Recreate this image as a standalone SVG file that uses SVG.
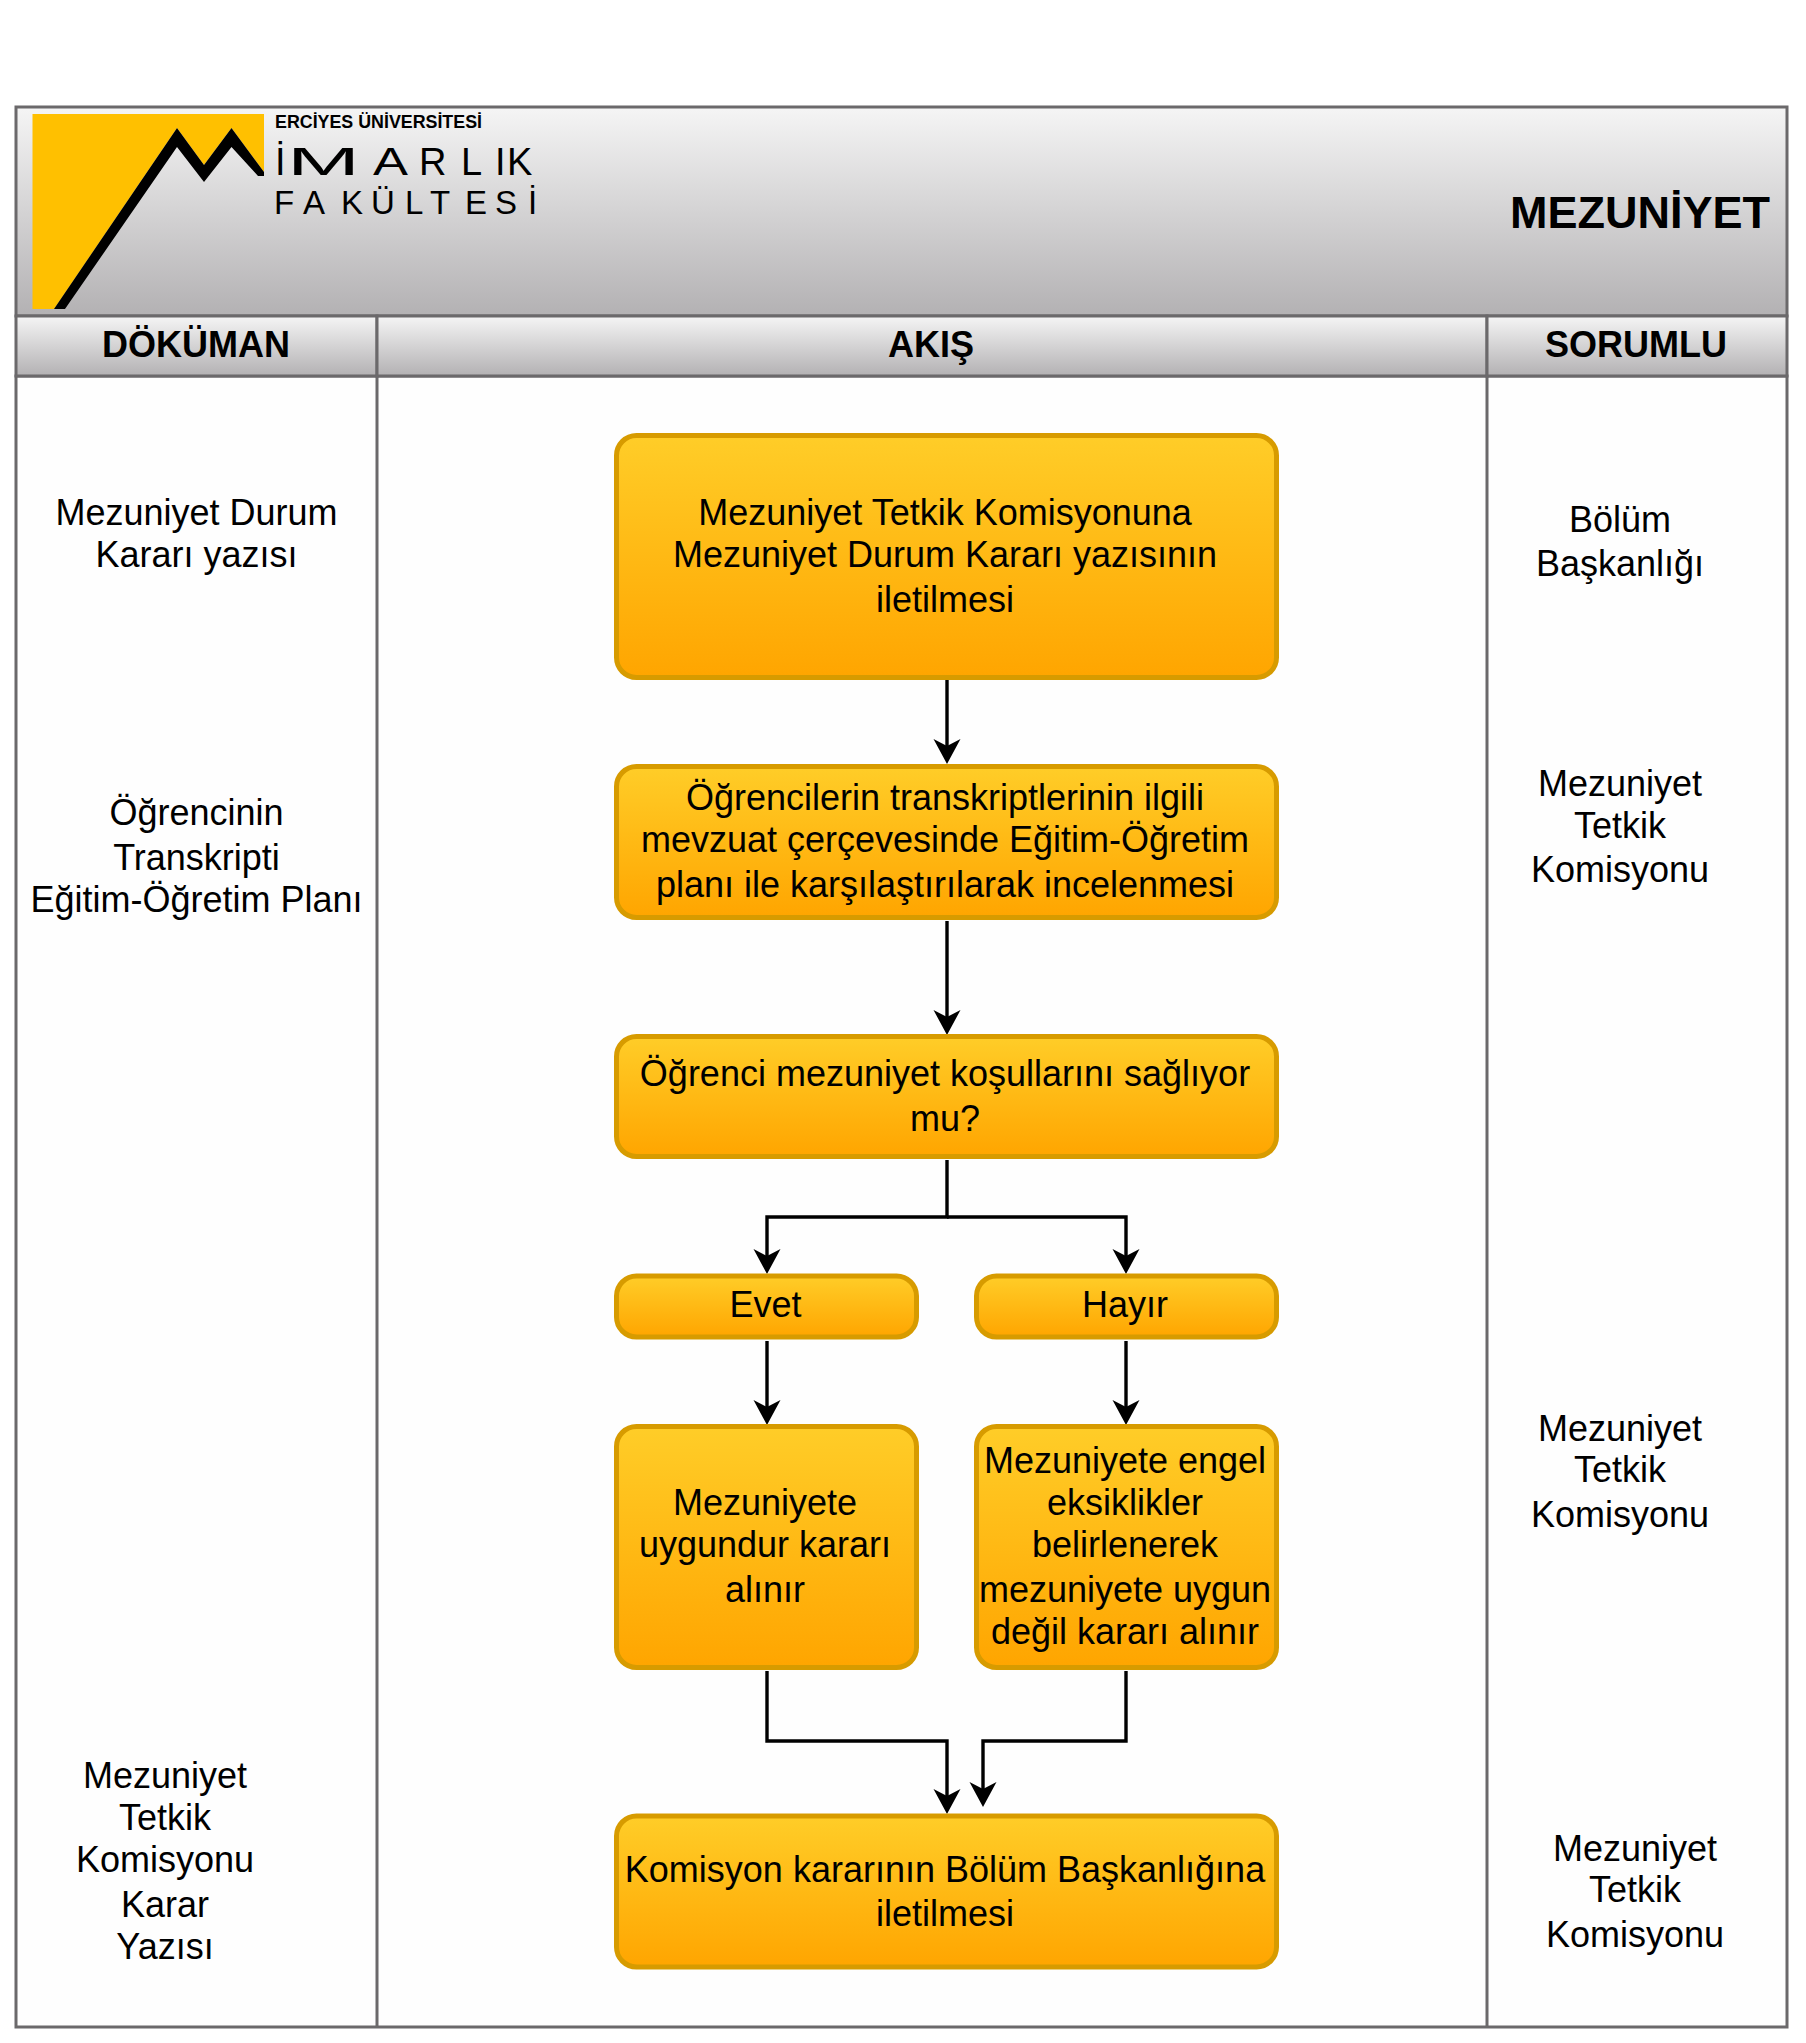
<svg xmlns="http://www.w3.org/2000/svg" width="1806" height="2043" viewBox="0 0 1806 2043">
<style>
text{font-family:"Liberation Sans",Arial,sans-serif;fill:#000;text-anchor:middle}
.t{font-size:36px}
.h{font-size:36px;font-weight:bold}
.box{fill:url(#y);stroke:#d79b00;stroke-width:5}
.cell{stroke:#6b696b;stroke-width:3}
.c{fill:none;stroke:#000;stroke-width:3.4;marker-end:url(#a)}
.logo{text-anchor:start}
</style>
<defs>
<linearGradient id="g" x1="0" y1="0" x2="0" y2="1"><stop offset="0" stop-color="#f5f5f5"/><stop offset="1" stop-color="#b3b1b3"/></linearGradient>
<linearGradient id="y" x1="0" y1="0" x2="0" y2="1"><stop offset="0" stop-color="#ffcd28"/><stop offset="1" stop-color="#ffa500"/></linearGradient>
<marker id="a" markerUnits="userSpaceOnUse" markerWidth="28" markerHeight="28" refX="13" refY="14" orient="auto" viewBox="0 0 28 28"><path d="M25 14L0 27.500L7 14L0 0.500Z" fill="#000"/></marker>
</defs>
<rect width="1806" height="2043" fill="#fff"/>
<g id="frame">
<rect class="cell" x="16" y="376" width="1771" height="1651" fill="#fefefe"/>
<rect class="cell" x="16" y="107" width="1771" height="209" fill="url(#g)"/>
<rect class="cell" x="16" y="316" width="361" height="60" fill="url(#g)"/>
<rect class="cell" x="377" y="316" width="1110" height="60" fill="url(#g)"/>
<rect class="cell" x="1487" y="316" width="300" height="60" fill="url(#g)"/>
<path class="cell" d="M377 376V2027M1487 376V2027"/>
</g>
<g id="logo">
<polygon points="32.500,114 264,114 264,172 231.500,128 204,165 177,128 54,309 32.500,309" fill="#ffc000"/>
<polygon points="54,309 177,128 204,165 231.500,128 264,172 264,176 258,176 231.500,147 204,182 177,147 65,309" fill="#000"/>
<text class="logo" x="275" y="128" font-size="18" font-weight="bold" textLength="207" lengthAdjust="spacingAndGlyphs">ERCİYES ÜNİVERSİTESİ</text>
<text class="logo" y="175" font-size="38"><tspan x="275">İ</tspan><tspan x="287" textLength="73" lengthAdjust="spacingAndGlyphs">M</tspan><tspan x="373" textLength="35" lengthAdjust="spacingAndGlyphs">A</tspan><tspan x="419">R</tspan><tspan x="461">L</tspan><tspan x="495">I</tspan><tspan x="507">K</tspan></text>
<text class="logo" y="214" font-size="33" x="274 303 341 371 405 430 465 495 528">FAKÜLTESİ</text>
</g>
<g id="titles">
<text x="1770" y="228" font-size="45" font-weight="bold" style="text-anchor:end">MEZUNİYET</text>
<text class="h" x="196" y="357">DÖKÜMAN</text>
<text class="h" x="931" y="357">AKIŞ</text>
<text class="h" x="1636" y="357">SORUMLU</text>
</g>
<g id="connectors">
<path class="c" d="M947 680V752"/>
<path class="c" d="M947 921V1023"/>
<path class="c" d="M947 1160V1217H767V1262"/>
<path class="c" d="M947 1217H1126V1262"/>
<path class="c" d="M767 1341V1413"/>
<path class="c" d="M1126 1341V1413"/>
<path class="c" d="M767 1671V1741H947V1802"/>
<path class="c" d="M1126 1671V1741H983V1795"/>
</g>
<g id="n1"><rect class="box" x="616.500" y="435.500" width="660" height="242" rx="20"/><text class="t"><tspan x="945" y="525">Mezuniyet Tetkik Komisyonuna</tspan><tspan x="945" y="566.700">Mezuniyet Durum Kararı yazısının</tspan><tspan x="945" y="612">iletilmesi</tspan></text></g>
<g id="n2"><rect class="box" x="616.500" y="766.500" width="660" height="151" rx="20"/><text class="t"><tspan x="945" y="809.700">Öğrencilerin transkriptlerinin ilgili</tspan><tspan x="945" y="851.700">mevzuat çerçevesinde Eğitim-Öğretim</tspan><tspan x="945" y="896.700">planı ile karşılaştırılarak incelenmesi</tspan></text></g>
<g id="n3"><rect class="box" x="616.500" y="1036.500" width="660" height="120" rx="20"/><text class="t"><tspan x="945" y="1085.700">Öğrenci mezuniyet koşullarını sağlıyor</tspan><tspan x="945" y="1130.700">mu?</tspan></text></g>
<g id="n4"><rect class="box" x="616.500" y="1276" width="300" height="61" rx="20"/><text class="t" x="765.500" y="1317">Evet</text></g>
<g id="n5"><rect class="box" x="976.500" y="1276" width="300" height="61" rx="20"/><text class="t" x="1125" y="1317">Hayır</text></g>
<g id="n6"><rect class="box" x="616.500" y="1426.500" width="300" height="241" rx="20"/><text class="t"><tspan x="765" y="1514.700">Mezuniyete</tspan><tspan x="765" y="1556.500">uygundur kararı</tspan><tspan x="765" y="1601.700">alınır</tspan></text></g>
<g id="n7"><rect class="box" x="976.500" y="1426.500" width="300" height="241" rx="20"/><text class="t"><tspan x="1125" y="1472.700">Mezuniyete engel</tspan><tspan x="1125" y="1514.700">eksiklikler</tspan><tspan x="1125" y="1556.500">belirlenerek</tspan><tspan x="1125" y="1601.700">mezuniyete uygun</tspan><tspan x="1125" y="1643.500">değil kararı alınır</tspan></text></g>
<g id="n8"><rect class="box" x="616.500" y="1816" width="660" height="151" rx="20"/><text class="t"><tspan x="945" y="1881.700">Komisyon kararının Bölüm Başkanlığına</tspan><tspan x="945" y="1925.500">iletilmesi</tspan></text></g>
<g id="doc1"><text class="t"><tspan x="196.500" y="525">Mezuniyet Durum</tspan><tspan x="196.500" y="566.700">Kararı yazısı</tspan></text></g>
<g id="doc2"><text class="t"><tspan x="196.500" y="824.700">Öğrencinin</tspan><tspan x="196.500" y="869.700">Transkripti</tspan><tspan x="196.500" y="911.700">Eğitim-Öğretim Planı</tspan></text></g>
<g id="doc3"><text class="t"><tspan x="165" y="1787.500">Mezuniyet</tspan><tspan x="165" y="1829.500">Tetkik</tspan><tspan x="165" y="1871.500">Komisyonu</tspan><tspan x="165" y="1916.700">Karar</tspan><tspan x="165" y="1958.500">Yazısı</tspan></text></g>
<g id="res1"><text class="t"><tspan x="1620" y="532">Bölüm</tspan><tspan x="1620" y="576">Başkanlığı</tspan></text></g>
<g id="res2"><text class="t"><tspan x="1620" y="796">Mezuniyet</tspan><tspan x="1620" y="837.500">Tetkik</tspan><tspan x="1620" y="881.700">Komisyonu</tspan></text></g>
<g id="res3"><text class="t"><tspan x="1620" y="1440.500">Mezuniyet</tspan><tspan x="1620" y="1481.700">Tetkik</tspan><tspan x="1620" y="1526.700">Komisyonu</tspan></text></g>
<g id="res4"><text class="t"><tspan x="1635" y="1860.500">Mezuniyet</tspan><tspan x="1635" y="1901.700">Tetkik</tspan><tspan x="1635" y="1946.500">Komisyonu</tspan></text></g>
</svg>
